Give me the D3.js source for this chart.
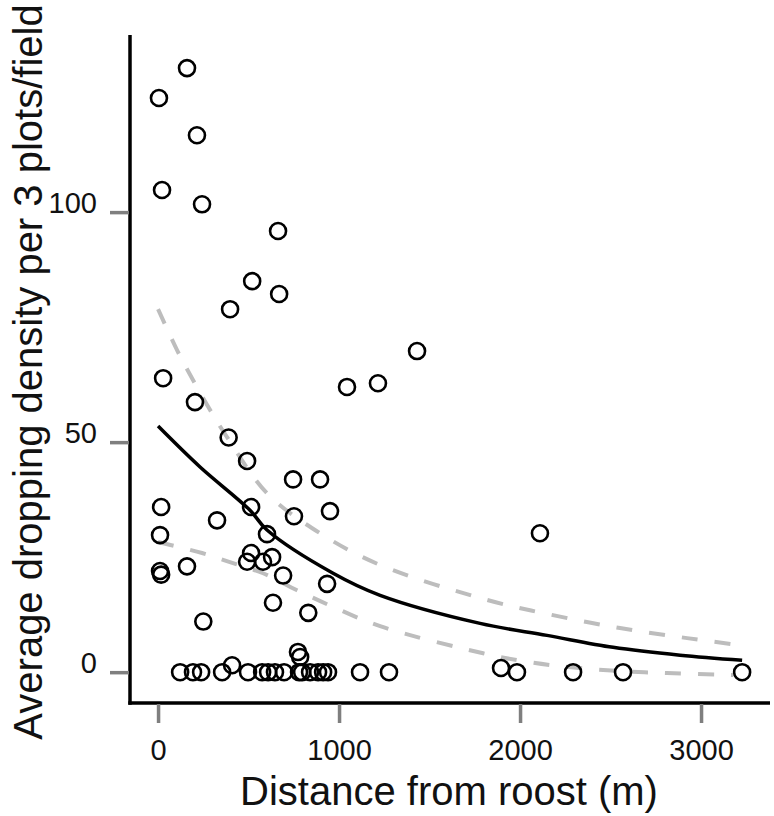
<!DOCTYPE html>
<html><head><meta charset="utf-8">
<script src="https://cdn.jsdelivr.net/npm/d3@7"></script>
<style>body{margin:0;background:#fff}svg{display:block}text{font-family:"Liberation Sans",Arial,sans-serif}</style>
</head><body>
<svg id="c" width="774" height="816"></svg>
<script>
// Observed points: distance (m) and average dropping density
const distance = [160,5,215,22,243,663,520,669,398,1431,28,1215,1044,204,390,492,746,895,17,514,950,751,326,602,11,2110,514,630,492,580,160,11,17,691,934,635,830,250,773,785,409,1895,
  122,193,238,354,497,575,608,646,696,779,796,840,884,912,939,1116,1276,1983,2293,2569,3227];
const density = [131.3,124.8,116.7,104.8,101.7,95.9,85,82.2,78.9,69.8,63.9,62.8,62,58.7,51,45.9,41.9,41.9,35.9,35.9,35,33.9,33,30,29.8,30.2,25.9,25,24,24,23,22,21.2,21,19.2,15.1,12.9,11,4.4,3.3,1.5,0.9,
  0,0,0,0,0,0,0,0,0,0,0,0,0,0,0,0,0,0,0,0,0];
// Fitted curve and confidence band
const fitX = [0,232,508,602,967,1227,1779,2149,2514,2884,3227];
const fitY = [53.5,44.6,35.2,30.9,21.5,16.7,10.6,8.0,5.4,3.7,2.6];
const upX = [0,105,193,298,381,602,895,1227,1818,2182,2552,2923,3171];
const upY = [78.9,70,63.5,56.3,51.1,38.9,30.2,23.3,15.7,12.4,9.6,7.4,6.1];
const loX = [0,243,414,580,768,967,1227,1796,2017,2221,2569,2812,3177];
const loY = [28.3,25.9,23.7,21.5,17.8,14.2,10.0,4.1,2.4,1.3,0.2,-0.2,-0.6];
const xTicks = [0,1000,2000,3000];
const yTicks = [0,50,100];
const xTitle = "Distance from roost (m)";
const yTitle = "Average dropping density per 3 plots/field";

const svg = d3.select("#c");
const x = d3.scaleLinear().domain([-155,3381]).range([130,770]);
const y = d3.scaleLinear().domain([-6.7,138.5]).range([703,35]);

// axes lines (L-shaped)
svg.append("line").attr("x1",130).attr("x2",130).attr("y1",y.range()[1]).attr("y2",703+1.7)
  .attr("stroke","#000").attr("stroke-width",3.5);
svg.append("line").attr("x1",130-1.7).attr("x2",770).attr("y1",703).attr("y2",703)
  .attr("stroke","#000").attr("stroke-width",3.5);

// x axis ticks
const xa = svg.append("g").attr("transform","translate(0,704)")
  .call(d3.axisBottom(x).tickValues(xTicks).tickFormat(d3.format("d")).tickSize(19).tickSizeOuter(0).tickPadding(16));
xa.select(".domain").remove();
xa.selectAll(".tick line").attr("stroke","#7f7f7f").attr("stroke-width",3.5);
xa.selectAll(".tick text").attr("fill","#111").style("font-size","29px");

const ya = svg.append("g").attr("transform","translate(129,0)")
  .call(d3.axisLeft(y).tickValues(yTicks).tickFormat(d3.format("d")).tickSize(19).tickSizeOuter(0).tickPadding(13));
ya.select(".domain").remove();
ya.selectAll(".tick line").attr("stroke","#7f7f7f").attr("stroke-width",3.5);
ya.selectAll(".tick text").attr("fill","#111").attr("dy","0.0em").style("font-size","29px");

// titles
svg.append("text").attr("x",449).attr("y",805).attr("text-anchor","middle")
  .style("font-size","40px").attr("fill","#111").text(xTitle);
svg.append("text").attr("transform","translate(42,372) rotate(-90)").attr("text-anchor","middle")
  .style("font-size","40px").attr("fill","#111").text(yTitle);

// curves
const line = d3.line().x(d=>x(d[0])).y(d=>y(d[1])).curve(d3.curveCatmullRom.alpha(0.5));
svg.append("path").datum(d3.zip(upX,upY)).attr("d",line).attr("fill","none")
  .attr("stroke","#bdbdbd").attr("stroke-width",4).attr("stroke-dasharray","16,17");
svg.append("path").datum(d3.zip(loX,loY)).attr("d",line).attr("fill","none")
  .attr("stroke","#bdbdbd").attr("stroke-width",4).attr("stroke-dasharray","16,17");
svg.append("path").datum(d3.zip(fitX,fitY)).attr("d",line).attr("fill","none")
  .attr("stroke","#000").attr("stroke-width",3.5);

// points
svg.append("g").selectAll("circle").data(d3.zip(distance,density)).join("circle")
  .attr("cx",d=>x(d[0])).attr("cy",d=>y(d[1])).attr("r",8)
  .attr("fill","none").attr("stroke","#000").attr("stroke-width",2.6);
</script>
</body></html>
